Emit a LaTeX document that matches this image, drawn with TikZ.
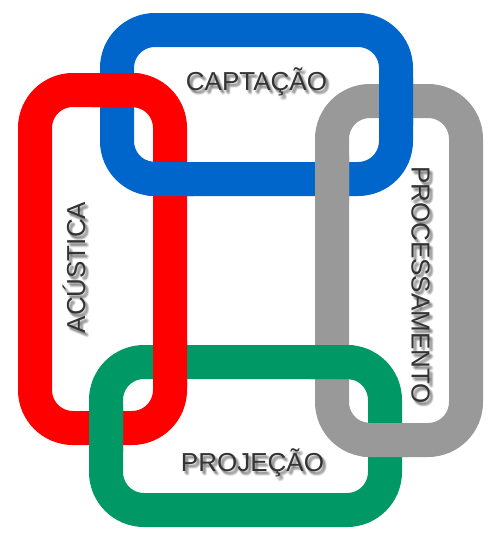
\documentclass[tikz,border=0pt]{standalone}
\usepackage{fontspec}
\setmainfont{Liberation Sans}
\usetikzlibrary{calc}
\definecolor{linkblue}{RGB}{0,102,204}
\definecolor{linkred}{RGB}{255,0,0}
\definecolor{linkgray}{RGB}{153,153,153}
\definecolor{linkgreen}{RGB}{0,153,102}
\definecolor{labeltext}{RGB}{51,51,51}
\definecolor{labelshadow}{RGB}{60,60,60}
\tikzset{
  chainlink/.style={line width=34pt, rounded corners=38pt},
  bluelink/.style={chainlink, draw=linkblue},
  redlink/.style={chainlink, draw=linkred},
  graylink/.style={chainlink, draw=linkgray},
  greenlink/.style={chainlink, draw=linkgreen},
  lbl/.style={inner sep=0pt, anchor=base, text=labeltext,
    font=\fontsize{26}{30}\selectfont},
  lblshadow/.style={lbl, text=labelshadow, opacity=0.09},
}
\newcommand\shadowlabel[4]{%
  \foreach \dx/\dy in {1/2,2/3,3/4,2/2,3/3,1/3,3/2,2/4,4/4,4/3,3/5}{%
    \node[lblshadow, rotate=#3] at ($(#2)+(\dx,\dy)$) {#4};
  }%
  \node[lbl, rotate=#3] (#1) at (#2) {#4};
}
\newcommand\bluePath{(117,30) rectangle (396,179)}
\newcommand\redPath{(35,90) rectangle (170,428)}
\newcommand\grayPath{(332,101) rectangle (466,440)}
\newcommand\greenPath{(106,362) rectangle (385,510)}
\begin{document}
\begin{tikzpicture}[x=1pt,y=-1pt]
\useasboundingbox (0,0) rectangle (500,550);
% full links
\draw[bluelink] \bluePath;
\draw[redlink] \redPath;
\draw[graylink] \grayPath;
\draw[greenlink] \greenPath;
% crossings: red top over blue left
\begin{scope}\clip (92,68) rectangle (143,112); \draw[redlink] \redPath; \end{scope}
% blue bottom over red right
\begin{scope}\clip (146,155) rectangle (193,202); \draw[bluelink] \bluePath; \end{scope}
% blue right over gray top
\begin{scope}\clip (373,78) rectangle (418,124); \draw[bluelink] \bluePath; \end{scope}
% gray left over blue bottom
\begin{scope}\clip (309,155) rectangle (354,202); \draw[graylink] \grayPath; \end{scope}
% red right over green top
\begin{scope}\clip (146,340) rectangle (193,386); \draw[redlink] \redPath; \end{scope}
% green left over red bottom
\begin{scope}\clip (83,406) rectangle (129,451); \draw[greenlink] \greenPath; \end{scope}
% green top over gray left
\begin{scope}\clip (309,340) rectangle (354,386); \draw[greenlink] \greenPath; \end{scope}
% gray bottom over green right
\begin{scope}\clip (361,417) rectangle (408,463); \draw[graylink] \grayPath; \end{scope}
% labels
\coordinate (pcapt) at (256.5,90);
\coordinate (pproj) at (252.5,471);
\coordinate (pacus) at (85,267.5);
\coordinate (pproc) at (411.5,285);
\shadowlabel{captacao}{pcapt}{0}{CAPTAÇÃO}
\shadowlabel{projecao}{pproj}{0}{PROJEÇÃO}
\shadowlabel{acustica}{pacus}{90}{ACÚSTICA}
\shadowlabel{processamento}{pproc}{-90}{PROCESSAMENTO}
\end{tikzpicture}
\end{document}
